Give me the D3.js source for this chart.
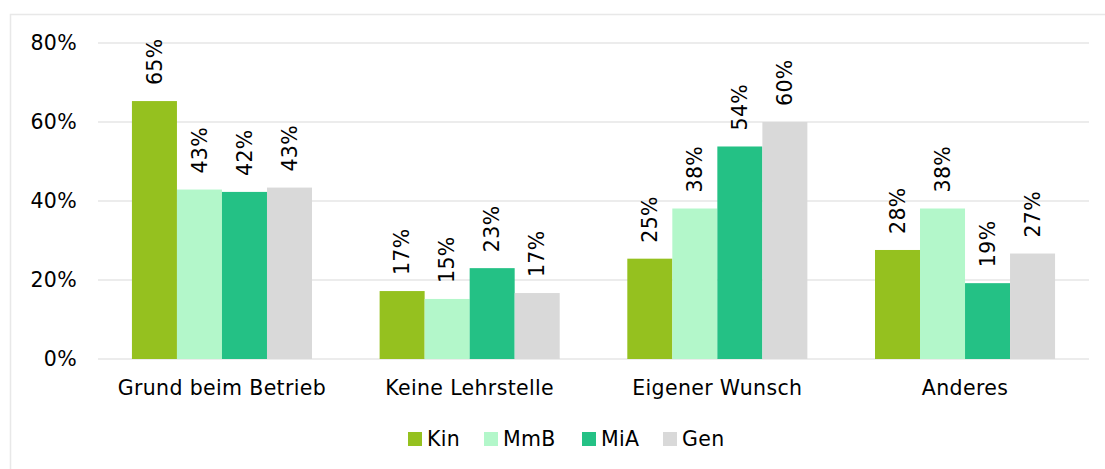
<!DOCTYPE html>
<html>
<head>
<meta charset="utf-8">
<script src="https://cdn.jsdelivr.net/npm/d3@7"></script>
<style>
  body { margin: 0; background: #fff; }
  svg text { font-family: "DejaVu Sans", Verdana, sans-serif; fill: #000; letter-spacing: 0.35px; }
</style>
</head>
<body>
<svg width="1105" height="469"></svg>
<script>
// Data
const categories = ["Grund beim Betrieb", "Keine Lehrstelle", "Eigener Wunsch", "Anderes"];
const seriesNames = ["Kin", "MmB", "MiA", "Gen"];
const kin = [65.3, 17.2, 25.4, 27.6];
const mmb = [42.9, 15.2, 38.1, 38.1];
const mia = [42.3, 23.0, 53.8, 19.2];
const gen = [43.4, 16.7, 60.0, 26.7];
const yTicks = [0, 20, 40, 60, 80];

const colors = ["#95c11f", "#b3f7ca", "#24c185", "#d9d9d9"];
const values = [kin, mmb, mia, gen];

const fontSize = "20.5px";
const svg = d3.select("svg");

// chart frame
svg.append("rect")
	.attr("x", 10.5).attr("y", 14.5)
	.attr("width", 1110).attr("height", 470)
	.attr("fill", "none")
	.attr("stroke", "#e8e8e8")
	.attr("stroke-width", 1.5);

const plotLeft = 98, plotRight = 1089, plotTop = 43, plotBottom = 359;

const x0 = d3.scaleBand().domain(categories).range([plotLeft, plotRight]).paddingInner(0.273).paddingOuter(0.137);
const x1 = d3.scaleBand().domain(seriesNames).range([0, x0.bandwidth()]);
const y = d3.scaleLinear().domain([0, 80]).range([plotBottom, plotTop]);

// gridlines
svg.append("g")
	.selectAll("line")
	.data(yTicks)
	.enter()
	.append("line")
	.attr("x1", plotLeft).attr("x2", plotRight)
	.attr("y1", (d) => y(d)).attr("y2", (d) => y(d))
	.attr("stroke", "#ececec")
	.attr("stroke-width", 2);

// y axis labels
svg.append("g")
	.selectAll("text")
	.data(yTicks)
	.enter()
	.append("text")
	.attr("x", 77)
	.attr("y", (d) => y(d))
	.attr("dy", "0.35em")
	.attr("text-anchor", "end")
	.style("font-size", fontSize)
	.text((d) => d + "%");

// bars
const groups = svg.append("g")
	.selectAll("g")
	.data(categories)
	.enter()
	.append("g")
	.attr("transform", (d) => `translate(${x0(d)},0)`);

groups.selectAll("rect")
	.data((d, i) => seriesNames.map((s, j) => ({ s, v: values[j][i], c: colors[j] })))
	.enter()
	.append("rect")
	.attr("x", (d) => x1(d.s))
	.attr("y", (d) => y(d.v))
	.attr("width", x1.bandwidth())
	.attr("height", (d) => plotBottom - y(d.v))
	.attr("fill", (d) => d.c);

// value labels (rotated)
groups.selectAll("text")
	.data((d, i) => seriesNames.map((s, j) => ({ s, v: values[j][i] })))
	.enter()
	.append("text")
	.attr("transform", (d) => `translate(${x1(d.s) + x1.bandwidth() / 2},${y(d.v) - 16}) rotate(-90)`)
	.attr("dy", "0.35em")
	.style("font-size", fontSize)
	.text((d) => Math.round(d.v) + "%");

// category labels
svg.append("g")
	.selectAll("text")
	.data(categories)
	.enter()
	.append("text")
	.attr("x", (d) => x0(d) + x0.bandwidth() / 2)
	.attr("y", 395)
	.attr("text-anchor", "middle")
	.style("font-size", fontSize)
	.text((d) => d);

// legend
const legendX = [408, 484, 582, 663];
const legend = svg.append("g")
	.selectAll("g")
	.data(seriesNames)
	.enter()
	.append("g")
	.attr("transform", (d, i) => `translate(${legendX[i]},432)`);

legend.append("rect")
	.attr("width", 14).attr("height", 14)
	.attr("fill", (d, i) => colors[i]);

legend.append("text")
	.attr("x", 19)
	.attr("y", 7)
	.attr("dy", "0.35em")
	.style("font-size", fontSize)
	.text((d) => d);
</script>
</body>
</html>
